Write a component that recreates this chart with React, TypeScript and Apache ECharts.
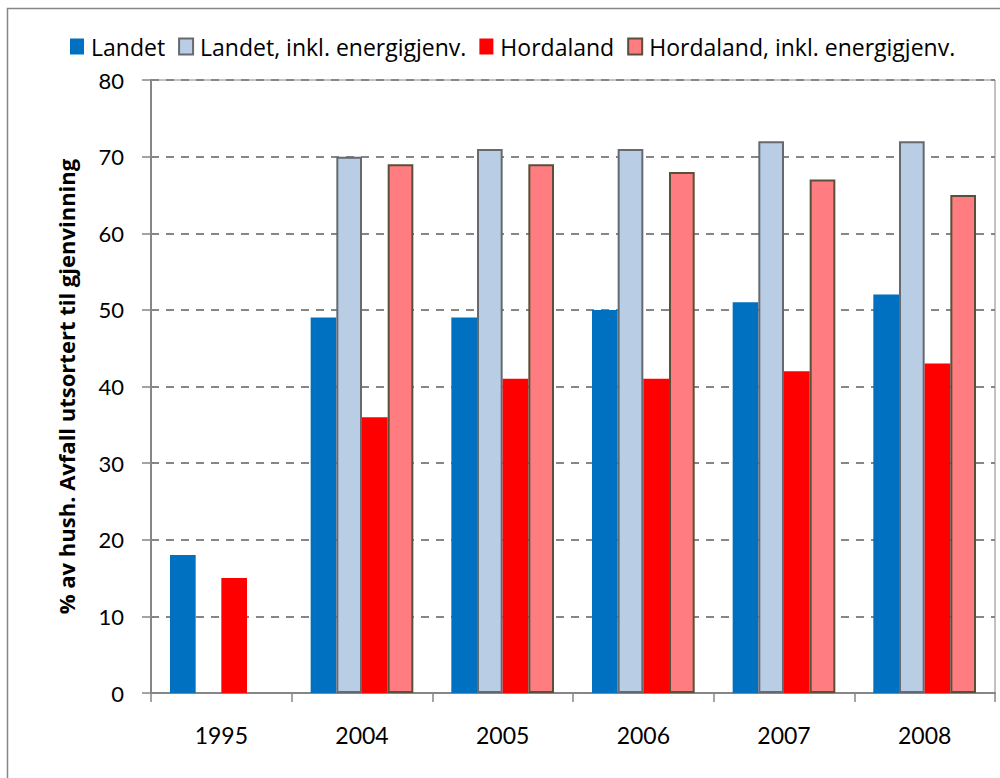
import React, { useEffect, useRef } from "react";
import * as echarts from "echarts";

const categories = ["1995", "2004", "2005", "2006", "2007", "2008"];
const landet = [18, 49, 49, 50, 51, 52];
const landetInkl: (number | null)[] = [null, 70, 71, 71, 72, 72];
const hordaland = [15, 36, 41, 41, 42, 43];
const hordalandInkl: (number | null)[] = [null, 69, 69, 68, 67, 65];
const yTicks = [0, 10, 20, 30, 40, 50, 60, 70, 80];
const seriesNames = [
  "Landet",
  "Landet, inkl. energigjenv.",
  "Hordaland",
  "Hordaland, inkl. energigjenv.",
];
const yTitle = "% av hush. Avfall utsortert til gjenvinning";

const FONT = "'Lato', sans-serif";
const FONT2 = "'Open Sans', sans-serif";

export default function App() {
  const ref = useRef<HTMLDivElement>(null);
  useEffect(() => {
    document.body.style.margin = "0";
    if (!ref.current) return;
    const chart = echarts.init(ref.current, undefined, { renderer: "svg" });
    const gray = "#868686";
    chart.setOption({
      animation: false,
      backgroundColor: "#ffffff",
      textStyle: { fontFamily: FONT },
      graphic: [
        {
          type: "rect",
          shape: { x: 7.5, y: 8.5, width: 1100, height: 900 },
          style: { fill: "none", stroke: gray, lineWidth: 1.5 },
          silent: true,
        },
      ],
      legend: {
        top: 30,
        left: 65,
        itemWidth: 14,
        itemHeight: 16,
        itemGap: 13,
        icon: "rect",
        textStyle: { fontSize: 23, color: "#000", fontFamily: FONT2, padding: [0, 0, 0, 2] },
        data: seriesNames,
      },
      grid: {
        left: 151,
        right: 5,
        top: 80,
        bottom: 85,
        show: true,
        borderColor: gray,
        borderWidth: 1,
      },
      xAxis: {
        type: "category",
        data: categories,
        axisLine: { lineStyle: { color: gray, width: 2 } },
        axisTick: { show: true, length: 9, lineStyle: { color: gray, width: 1.5 } },
        axisLabel: { fontSize: 23, color: "#000", margin: 30, fontFamily: FONT },
      },
      yAxis: {
        type: "value",
        min: yTicks[0],
        max: yTicks[yTicks.length - 1],
        interval: 10,
        name: yTitle,
        nameLocation: "middle",
        nameGap: 74,
        nameTextStyle: { fontSize: 22, fontWeight: "bold", color: "#000", fontFamily: FONT2 },
        axisLine: { show: true, lineStyle: { color: gray, width: 2 } },
        axisTick: { show: true, length: 9, lineStyle: { color: gray, width: 1.5 } },
        axisLabel: { fontSize: 22, color: "#000", margin: 27, fontFamily: FONT },
        splitLine: { lineStyle: { color: gray, type: [8, 7], width: 2 } },
      },
      series: [
        {
          name: seriesNames[0],
          type: "bar",
          data: landet,
          barGap: "0%",
          barCategoryGap: "27%",
          itemStyle: { color: "#0070C0" },
        },
        {
          name: seriesNames[1],
          type: "bar",
          data: landetInkl,
          itemStyle: { color: "#B9CDE5", borderColor: "#666a70", borderWidth: 2 },
        },
        {
          name: seriesNames[2],
          type: "bar",
          data: hordaland,
          itemStyle: { color: "#FF0000" },
        },
        {
          name: seriesNames[3],
          type: "bar",
          data: hordalandInkl,
          itemStyle: { color: "#FF7C80", borderColor: "#59503a", borderWidth: 2 },
        },
      ],
    });
    return () => chart.dispose();
  }, []);
  return <div ref={ref} style={{ width: 1000, height: 778 }} />;
}
